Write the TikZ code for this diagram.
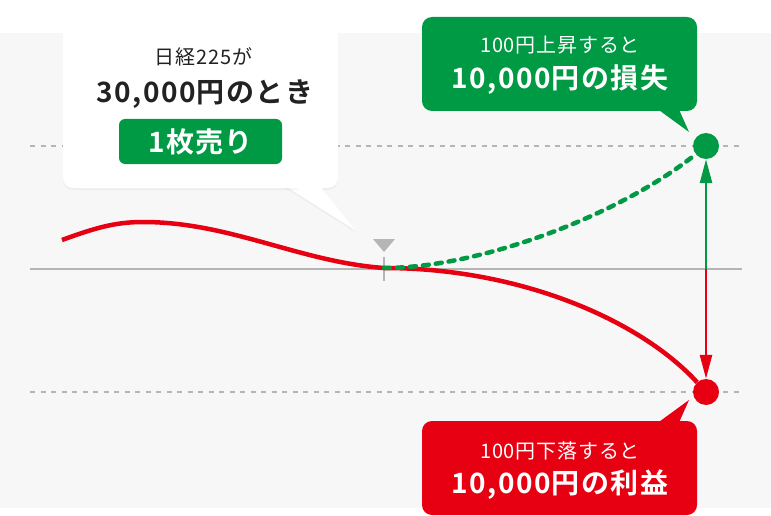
\documentclass[tikz,border=0pt]{standalone}
\usepackage{fontspec}
\setmainfont{Noto Sans CJK JP}[BoldFont=Noto Sans CJK JP Bold]
\usetikzlibrary{arrows.meta,shadows}
\definecolor{gain}{HTML}{009944}
\definecolor{loss}{HTML}{E60012}
\definecolor{rule}{HTML}{B5B5B5}
\definecolor{panel}{HTML}{F7F7F7}
\definecolor{ink}{HTML}{222222}
\tikzset{
  bubble/.style={rounded corners=10pt, minimum width=275pt, inner sep=0pt},
  dot/.style={circle, inner sep=0pt, minimum size=26pt},
  guide/.style={rule, line width=1.5pt, dash pattern=on 5pt off 5.5pt},
  small/.style={font=\fontsize{20}{23}\selectfont\addfontfeature{LetterSpace=4}},
  big/.style={font=\bfseries\fontsize{28}{31}\selectfont\addfontfeature{LetterSpace=5}},
  soft/.style={drop shadow={opacity=0.08, shadow xshift=0pt, shadow yshift=-2pt}},
}
\begin{document}
\begin{tikzpicture}[x=1pt,y=-1pt]
\useasboundingbox (0,0) rectangle (771,516);
\fill[panel] (0,33) rectangle (771,508);
\draw[guide] (30,146) -- (742,146);
\draw[guide] (30,392) -- (742,392);
\draw[rule, line width=2pt] (30,269) -- (742,269);
\draw[rule, line width=2pt] (384,257) -- (384,281);
\fill[rule] (373,239) -- (395,239) -- (384,252) -- cycle;
\coordinate (now) at (384,268);
\coordinate (base) at (706,269);
\node [dot] (up) at (706,146) {};
\node [dot] (down) at (706,392) {};
\draw[loss, line width=4.5pt] (62,240) .. controls (95,228) and (115,222) .. (143,222)
  .. controls (230,222) and (300,262) .. (now)
  .. controls (520,268) and (640,320) .. (down);
\draw[gain, line width=4.5pt, dash pattern=on 6pt off 7pt, line cap=round]
  (now) .. controls (480,268) and (620,215) .. (up);
\draw[gain, line width=2.5pt, -{Triangle[length=24pt,width=12pt]}] (base) -- (up);
\draw[loss, line width=2.5pt, -{Triangle[length=24pt,width=12pt]}] (base) -- (down);
\fill[gain] (up) circle [radius=13];
\fill[loss] (down) circle [radius=13];
\fill[white, soft] (285,186) -- (355,230) -- (315,186) -- cycle;
\node [bubble, fill=white, soft, minimum height=171pt] (cond) at (200.5,102.5) {};
\fill[white] (285,180) -- (355,230) -- (315,180) -- cycle;
\node [small, text=ink] (price) at (203.5,57) {日経225が};
\node [big, text=ink] (level) at (205,94) {30,000円のとき};
\node [big, fill=gain, text=white, rounded corners=6pt, minimum width=163pt, minimum height=45pt] (sell) at (200.5,141.5) {1枚売り};
\fill[gain] (652,105) -- (689,132) -- (677,105) -- cycle;
\node [bubble, fill=gain, minimum height=94pt] (lossbox) at (559.5,64) {};
\node [small, text=white] (rise) at (560,45.5) {100円上昇すると};
\node [big, text=white] (losstext) at (560,79.5) {10,000円の損失};
\fill[loss] (652,427) -- (689,400) -- (677,427) -- cycle;
\node [bubble, fill=loss, minimum height=94pt] (gainbox) at (559.5,468) {};
\node [small, text=white] (fall) at (560,450.5) {100円下落すると};
\node [big, text=white] (gaintext) at (560,484.5) {10,000円の利益};
\end{tikzpicture}
\end{document}
